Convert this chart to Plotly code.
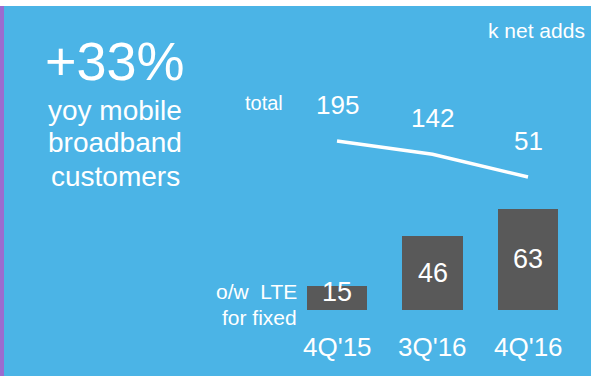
import plotly.graph_objects as go

# Quarterly net adds (thousands)
quarters = ["4Q'15", "3Q'16", "4Q'16"]
total_adds = [195, 142, 51]
lte_fixed_adds = [15, 46, 63]

BLUE = "#4BB4E6"
PURPLE = "#9B6BCF"
BAR = "#595959"
WHITE = "#FFFFFF"
FONT = "Liberation Sans"

W, H = 591, 376
xs = list(range(len(quarters)))

fig = go.Figure()

# LTE-for-fixed bars
fig.add_trace(go.Bar(
    x=xs, y=lte_fixed_adds, width=0.63,
    marker=dict(color=BAR, line=dict(width=0)),
    hoverinfo="skip", showlegend=False,
))

# Total net adds line on its own scale
fig.add_trace(go.Scatter(
    x=xs, y=total_adds, yaxis="y2", mode="lines",
    line=dict(color=WHITE, width=3.5),
    hoverinfo="skip", showlegend=False,
))

annotations = []
# value labels inside bars
for i, v in enumerate(lte_fixed_adds):
    annotations.append(dict(
        x=i, y=v / 2, xref="x", yref="y", text=str(v), showarrow=False,
        yshift=6 if v < 20 else 0,
        font=dict(family=FONT, size=27, color=WHITE),
    ))
# value labels above the line
for i, v in enumerate(total_adds):
    annotations.append(dict(
        x=i, y=v, xref="x", yref="y2", text=str(v), showarrow=False,
        yshift=36, font=dict(family=FONT, size=26, color=WHITE),
    ))
# category labels under the bars
for i, q in enumerate(quarters):
    annotations.append(dict(
        x=i, y=0, xref="x", yref="y", text=q, showarrow=False,
        yshift=-37, font=dict(family=FONT, size=26, color=WHITE),
    ))

def px_text(x, y, text, size, xanchor="center"):
    return dict(
        x=x / W, y=1 - y / H, xref="paper", yref="paper", text=text,
        showarrow=False, xanchor=xanchor, yanchor="middle",
        font=dict(family=FONT, size=size, color=WHITE),
    )

annotations += [
    px_text(115, 61, "+33%", 54),
    px_text(115, 110, "yoy mobile", 28),
    px_text(115, 143, "broadband", 28),
    px_text(115, 176, "customers", 28),
    px_text(587, 31, "k net adds", 21, "right"),
    px_text(285, 103, "total", 20, "right"),
    px_text(299, 291, "o/w  LTE", 21, "right"),
    px_text(299, 317, "for fixed", 21, "right"),
]

shapes = [
    # thin white strip along the top
    dict(type="rect", xref="paper", yref="paper", x0=0, x1=1,
         y0=1 - 6 / H, y1=1, fillcolor=WHITE, line=dict(width=0), layer="below"),
    # purple accent on the left edge
    dict(type="rect", xref="paper", yref="paper", x0=0, x1=4 / W,
         y0=0, y1=1 - 6 / H, fillcolor=PURPLE, line=dict(width=0), layer="below"),
]

# axis ranges chosen so 95.5 px per category, bars at 1.61 px/unit, line at 0.25 px/unit
cat_px = 95.5
x0_px = 337
bar_px = 1.61
base_px = 310
line_px = 0.25
line_zero_px = 189.75

fig.update_layout(
    width=W, height=H,
    margin=dict(l=0, r=0, t=0, b=0),
    paper_bgcolor=BLUE, plot_bgcolor=BLUE,
    xaxis=dict(range=[-x0_px / cat_px, (W - x0_px) / cat_px], visible=False,
               fixedrange=True),
    yaxis=dict(range=[-(H - base_px) / bar_px, base_px / bar_px], visible=False,
               fixedrange=True),
    yaxis2=dict(range=[-(H - line_zero_px) / line_px, line_zero_px / line_px],
                overlaying="y", visible=False, fixedrange=True),
    annotations=annotations,
    shapes=shapes,
    bargap=0,
)

fig.write_html("out.html", config={"displayModeBar": False})
